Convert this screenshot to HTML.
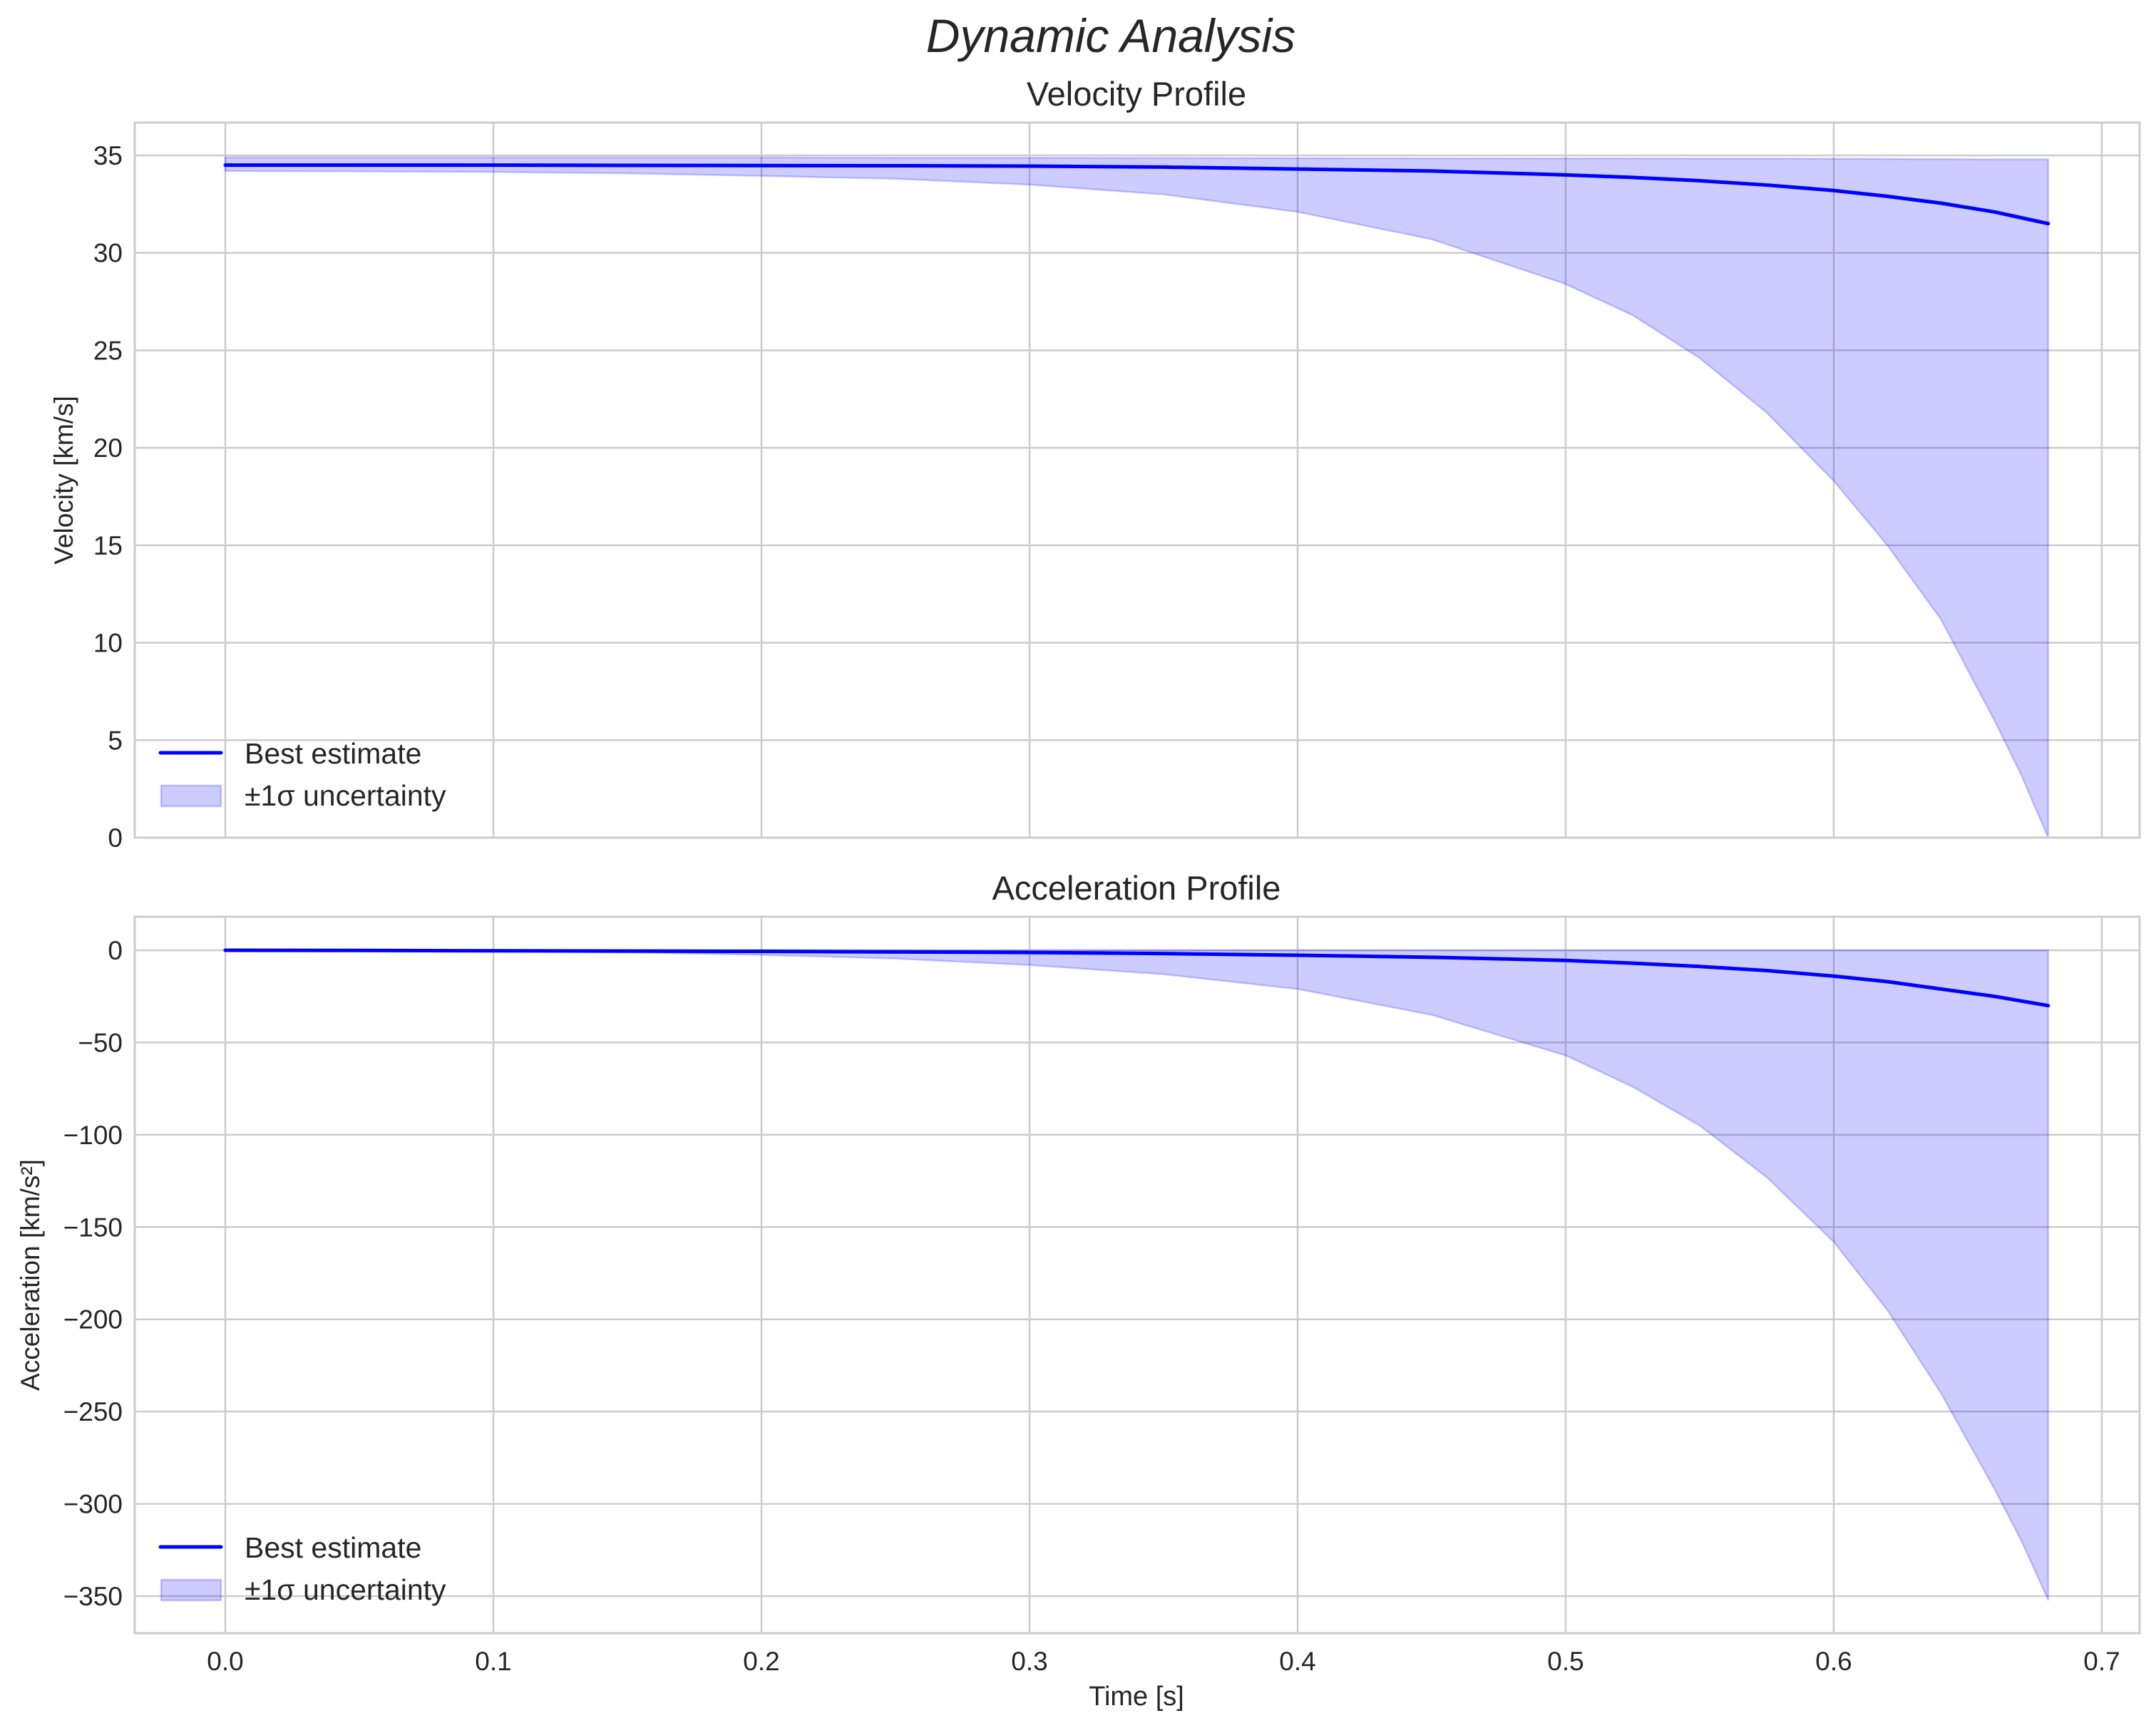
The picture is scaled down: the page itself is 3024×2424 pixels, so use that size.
<!DOCTYPE html>
<html><head><meta charset="utf-8"><style>
body{margin:0;background:#fff}
svg{display:block;font-family:"Liberation Sans",sans-serif}
</style></head><body>
<svg id="fig" width="3024" height="2424" xmlns="http://www.w3.org/2000/svg">
<rect width="3024" height="2424" fill="#fff"/>
<text x="1558" y="73" font-size="66" font-style="italic" text-anchor="middle" fill="#262626">Dynamic Analysis</text>
</svg>
<script>
const times = [0,0.05,0.1,0.15,0.2,0.25,0.3,0.35,0.4,0.45,0.5,0.525,0.55,0.575,0.6,0.62,0.64,0.66,0.67,0.68];
const velBest = [34.5,34.5,34.5,34.49,34.48,34.47,34.45,34.4,34.3,34.2,34.0,33.87,33.7,33.48,33.2,32.9,32.55,32.1,31.8,31.5];
const velUpper = [34.9,34.9,34.9,34.9,34.9,34.88,34.88,34.87,34.86,34.85,34.85,34.85,34.84,34.84,34.83,34.82,34.81,34.8,34.8,34.8];
const velLower = [34.2,34.18,34.15,34.08,33.95,33.8,33.5,33.0,32.1,30.7,28.4,26.8,24.6,21.8,18.3,15.0,11.2,6.0,3.2,0];
const accBest = [0,-0.1,-0.3,-0.45,-0.6,-0.9,-1.2,-1.8,-2.7,-3.8,-5.5,-7,-8.8,-11,-14,-17,-21,-25,-27.5,-30];
const accUpper = [0,0,0,0,0,0,0,0,0,0,0,0,0,0,0,0,0,0,0,0];
const accLower = [0,-0.2,-0.5,-1.2,-2.5,-4.5,-8,-13,-21,-35,-57,-74,-95,-123,-158,-195,-240,-292,-320,-352];
const xTicks = [0,0.1,0.2,0.3,0.4,0.5,0.6,0.7];
const xTickLabels = ["0.0","0.1","0.2","0.3","0.4","0.5","0.6","0.7"];
const velTicks = [0,5,10,15,20,25,30,35];
const accTicks = [0,-50,-100,-150,-200,-250,-300,-350];
const accTickLabels = ["0","\u221250","\u2212100","\u2212150","\u2212200","\u2212250","\u2212300","\u2212350"];

const NS="http://www.w3.org/2000/svg";
const svg=document.getElementById('fig');
function el(tag,attrs,parent){const e=document.createElementNS(NS,tag);for(const k in attrs)e.setAttribute(k,attrs[k]);(parent||svg).appendChild(e);return e;}
const X0=189,X1=3001;
const xs=v=>316+v*3760;

function panel(p){
  const g=el('g',{});
  
  
  const ys=v=>p.y0px+(v-p.v0)*(p.y1px-p.y0px)/(p.v1-p.v0);
  xTicks.forEach((t,i)=>{
    const l=el('line',{x1:xs(t),x2:xs(t),y1:p.top,y2:p.bot,stroke:'#cccccc','stroke-width':2.5},g);
    
    
    if(p.xlabels){
      const tx=el('text',{x:xs(t),y:p.bot+52,'font-size':37,'text-anchor':'middle',fill:'#262626'},g);
      tx.textContent=xTickLabels[i];
      
      
    }
  });
  p.ticks.forEach((t,i)=>{
    const l=el('line',{x1:X0,x2:X1,y1:ys(t),y2:ys(t),stroke:'#cccccc','stroke-width':2.5},g);
    
    
    const tx=el('text',{x:172,y:ys(t)+13,'font-size':37,'text-anchor':'end',fill:'#262626'},g);
    tx.textContent=p.tickLabels?p.tickLabels[i]:String(t);
    
    
  });
  let d='M'+times.map((t,i)=>xs(t)+','+ys(p.upper[i])).join(' L');
  for(let i=times.length-1;i>=0;i--) d+=' L'+xs(times[i])+','+ys(p.lower[i]);
  d+='Z';
  const band=el('path',{d:d,fill:'rgba(0,0,255,0.2)',stroke:'rgba(0,0,255,0.2)','stroke-width':2.5,'stroke-linejoin':'round'},g);
  
  
  const line=el('polyline',{points:times.map((t,i)=>xs(t)+','+ys(p.best[i])).join(' '),fill:'none',stroke:'#0000ff','stroke-width':5,'stroke-linejoin':'round','stroke-linecap':'round'},g);
  
  
  const fr=el('rect',{x:X0,y:p.top,width:X1-X0,height:p.bot-p.top,fill:'none',stroke:'#cccccc','stroke-width':3},g);
  
  
  const tt=el('text',{x:1594,y:p.top-24,'font-size':47,'text-anchor':'middle',fill:'#262626'},g);
  tt.textContent=p.title;
  
  
  const yl=el('text',{x:0,y:0,'font-size':37,'text-anchor':'middle',fill:'#262626',transform:`translate(${p.ylx},${(p.top+p.bot)/2}) rotate(-90)`},g);
  yl.textContent=p.ylabel;
  
  
  const lg=el('g',{},g);
  
  
  const ll=el('line',{x1:225,x2:310,y1:p.leg,y2:p.leg,stroke:'#0000ff','stroke-width':5,'stroke-linecap':'round'},lg);
  
  
  const t1=el('text',{x:343,y:p.leg+15,'font-size':41,fill:'#262626'},lg);
  t1.textContent='Best estimate';
  
  
  const pr=el('rect',{x:226,y:p.leg+46,width:84,height:29,fill:'rgba(0,0,255,0.2)',stroke:'rgba(0,0,255,0.2)','stroke-width':2.5},lg);
  
  
  const t2=el('text',{x:343,y:p.leg+74,'font-size':41,fill:'#262626'},lg);
  t2.textContent='\u00b11\u03c3 uncertainty';
  
  
}
panel({name:'velocity-panel',top:172,bot:1175,v0:0,v1:35,y0px:1175,y1px:218,ticks:velTicks,upper:velUpper,lower:velLower,best:velBest,title:'Velocity Profile',ylabel:'Velocity [km/s]',ylx:102,leg:1056,xlabels:false});
panel({name:'acceleration-panel',top:1286,bot:2291,v0:0,v1:-350,y0px:1333,y1px:2239,ticks:accTicks,tickLabels:accTickLabels,upper:accUpper,lower:accLower,best:accBest,title:'Acceleration Profile',ylabel:'Acceleration [km/s\u00b2]',ylx:55,leg:2170,xlabels:true});
const xl=el('text',{x:1594,y:2392,'font-size':38,'text-anchor':'middle',fill:'#262626'});
xl.textContent='Time [s]';


</script>
</body></html>
